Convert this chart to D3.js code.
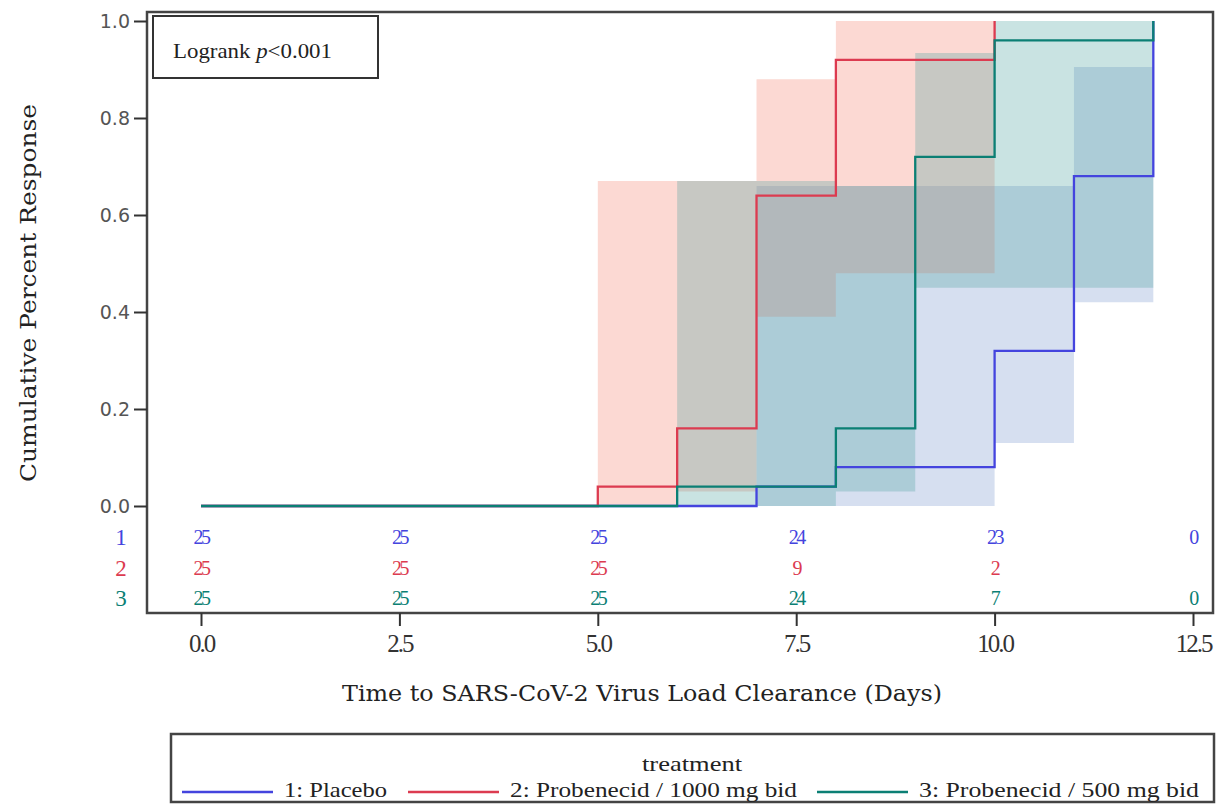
<!DOCTYPE html>
<html>
<head>
<meta charset="utf-8">
<script src="https://cdn.jsdelivr.net/npm/d3@7"></script>
<style>
  body { margin: 0; background: #fff; }
  svg { display: block; }
  .serif { font-family: "Liberation Serif", serif; }
  .wide { font-family: "DejaVu Serif", serif; }
</style>
</head>
<body>
<svg id="chart"></svg>
<script>
// Kaplan-Meier step curves (cumulative response)
const groups = ["1", "2", "3"]
const groupNames = ["1: Placebo", "2: Probenecid / 1000 mg bid", "3: Probenecid / 500 mg bid"]
const lineColors = ["#4444de", "#dc3b50", "#0b7f74"]
const bandColors = ["#7795cc", "#f6806e", "#4da19e"]

const placeboTimes = [0, 7, 8, 10, 11, 12]
const placeboValues = [0, 0.04, 0.08, 0.32, 0.68, 1.0]
const p1000Times = [0, 5, 6, 7, 8, 10]
const p1000Values = [0, 0.04, 0.16, 0.64, 0.92, 1.0]
const p500Times = [0, 6, 8, 9, 10, 12]
const p500Values = [0, 0.04, 0.16, 0.72, 0.96, 1.0]

// confidence bands: step starts (last entry = end of band), lower, upper
const placeboBandTimes = [7, 10, 11, 12]
const placeboBandLow = [0, 0.13, 0.42]
const placeboBandHigh = [0.66, 0.66, 0.905]
const p1000BandTimes = [5, 6, 7, 8, 10]
const p1000BandLow = [0, 0.03, 0.39, 0.48]
const p1000BandHigh = [0.67, 0.67, 0.88, 1.0]
const p500BandTimes = [6, 8, 9, 10, 12]
const p500BandLow = [0, 0.03, 0.45, 0.45]
const p500BandHigh = [0.67, 0.66, 0.934, 1.0]

// number at risk
const riskTimes = [0, 2.5, 5, 7.5, 10, 12.5]
const placeboRisk = ["25", "25", "25", "24", "23", "0"]
const p1000Risk = ["25", "25", "25", "9", "2", ""]
const p500Risk = ["25", "25", "25", "24", "7", "0"]

const xTicks = [0, 2.5, 5, 7.5, 10, 12.5]
const yTicks = [0, 0.2, 0.4, 0.6, 0.8, 1.0]

const width = 1222
const height = 804
const frame = { left: 147, top: 12, right: 1213, bottom: 613 }

const svg = d3.select("#chart").attr("width", width).attr("height", height)

const x = d3.scaleLinear().domain([0, 12.5]).range([201, 1193])
const y = d3.scaleLinear().domain([0, 1]).range([506, 21])

const curves = [
    { times: placeboTimes, values: placeboValues },
    { times: p1000Times, values: p1000Values },
    { times: p500Times, values: p500Values }
]
const bands = [
    { times: placeboBandTimes, low: placeboBandLow, high: placeboBandHigh },
    { times: p1000BandTimes, low: p1000BandLow, high: p1000BandHigh },
    { times: p500BandTimes, low: p500BandLow, high: p500BandHigh }
]
const risks = [placeboRisk, p1000Risk, p500Risk]

// bands (drawn transparent, placebo first, 500 mg last)
const area = d3.area()
    .curve(d3.curveStepAfter)
    .x(d => x(d.t))
    .y0(d => y(d.lo))
    .y1(d => y(d.hi))

const bandG = svg.append("g")
bands.forEach((b, i) => {
    const pts = b.times.map((t, j) => {
        const k = Math.min(j, b.low.length - 1)
        return { t: t, lo: b.low[k], hi: b.high[k] }
    })
    bandG.append("path")
        .attr("d", area(pts))
        .attr("fill", bandColors[i])
        .attr("fill-opacity", 0.3)
})

// step lines
const line = d3.line()
    .curve(d3.curveStepAfter)
    .x(d => x(d.t))
    .y(d => y(d.v))

const lineG = svg.append("g")
curves.forEach((c, i) => {
    const pts = c.times.map((t, j) => ({ t: t, v: c.values[j] }))
    lineG.append("path")
        .attr("d", line(pts))
        .attr("fill", "none")
        .attr("stroke", lineColors[i])
        .attr("stroke-width", 2.3)
})

// number at risk
const riskG = svg.append("g")
risks.forEach((r, i) => {
    const ry = 544 + i * 30.5
    riskG.append("text")
        .attr("class", "serif")
        .attr("x", 121)
        .attr("y", ry + 1)
        .attr("text-anchor", "middle")
        .attr("fill", lineColors[i])
        .style("font-size", "23px")
        .text(groups[i])
    riskG.selectAll(null)
        .data(r)
        .enter()
        .append("text")
        .attr("class", "serif")
        .attr("x", (d, j) => x(riskTimes[j]))
        .attr("y", ry)
        .attr("text-anchor", "middle")
        .attr("fill", lineColors[i])
        .style("font-size", "20px")
        .style("letter-spacing", "-2.5px")
        .text(d => d)
})

// frame
svg.append("rect")
    .attr("x", frame.left)
    .attr("y", frame.top)
    .attr("width", frame.right - frame.left)
    .attr("height", frame.bottom - frame.top)
    .attr("fill", "none")
    .attr("stroke", "#444")
    .attr("stroke-width", 2.5)

// axes
const xAxis = svg.append("g")
    .attr("transform", `translate(0, ${frame.bottom})`)
    .call(d3.axisBottom(x).tickValues(xTicks).tickFormat(d3.format(".1f")).tickSize(13).tickPadding(8))
xAxis.select(".domain").remove()
xAxis.attr("font-family", null)
xAxis.selectAll("line").attr("stroke", "#333").attr("stroke-width", 2)
xAxis.selectAll("text")
    .attr("class", "serif")
    .style("font-size", "25px")
    .style("letter-spacing", "-2px")
    .attr("fill", "#333")

const yAxis = svg.append("g")
    .attr("transform", `translate(${frame.left}, 0)`)
    .call(d3.axisLeft(y).tickValues(yTicks).tickFormat(d3.format(".1f")).tickSize(13).tickPadding(4))
yAxis.select(".domain").remove()
yAxis.selectAll("line").attr("stroke", "#333").attr("stroke-width", 2)
yAxis.selectAll("text")
    .style("font-family", "DejaVu Sans")
    .style("font-size", "19px")
    .attr("fill", "#555")

// axis titles
svg.append("text")
    .attr("class", "wide")
    .attr("transform", "translate(36, 293) rotate(-90)")
    .attr("text-anchor", "middle")
    .attr("textLength", 378)
    .attr("lengthAdjust", "spacingAndGlyphs")
    .style("font-size", "23px")
    .attr("fill", "#222")
    .text("Cumulative Percent Response")

svg.append("text")
    .attr("class", "wide")
    .attr("x", 642)
    .attr("y", 701)
    .attr("text-anchor", "middle")
    .attr("textLength", 600)
    .attr("lengthAdjust", "spacingAndGlyphs")
    .style("font-size", "23px")
    .attr("fill", "#222")
    .text("Time to SARS-CoV-2 Virus Load Clearance (Days)")

// logrank box
svg.append("rect")
    .attr("x", 153).attr("y", 16)
    .attr("width", 225).attr("height", 62)
    .attr("fill", "#fff")
    .attr("stroke", "#333")
    .attr("stroke-width", 2)
const lr = svg.append("text")
    .attr("class", "serif")
    .attr("x", 173).attr("y", 58)
    .attr("textLength", 159)
    .attr("lengthAdjust", "spacingAndGlyphs")
    .style("font-size", "22px")
    .attr("fill", "#222")
lr.append("tspan").text("Logrank ")
lr.append("tspan").style("font-style", "italic").text("p")
lr.append("tspan").text("<0.001")

// legend
const legend = svg.append("g")
legend.append("rect")
    .attr("x", 171).attr("y", 734)
    .attr("width", 1043).attr("height", 68)
    .attr("fill", "#fff")
    .attr("stroke", "#444")
    .attr("stroke-width", 2.5)
legend.append("text")
    .attr("class", "serif")
    .attr("x", 692).attr("y", 771)
    .attr("text-anchor", "middle")
    .attr("textLength", 100)
    .attr("lengthAdjust", "spacingAndGlyphs")
    .style("font-size", "22px")
    .attr("fill", "#222")
    .text("treatment")

const legendLineX = [182, 408, 817]
const legendTextLen = [103, 287, 280]
const item = legend.selectAll(".item")
    .data(groupNames)
    .enter()
    .append("g")
    .attr("class", "item")
    .attr("transform", (d, i) => `translate(${legendLineX[i]}, 797)`)
item.append("line")
    .attr("x1", 0).attr("x2", 91)
    .attr("y1", -5).attr("y2", -5)
    .attr("stroke", (d, i) => lineColors[i])
    .attr("stroke-width", 2.3)
item.append("text")
    .attr("class", "serif")
    .attr("x", 102)
    .attr("y", 0)
    .attr("textLength", (d, i) => legendTextLen[i])
    .attr("lengthAdjust", "spacingAndGlyphs")
    .style("font-size", "22px")
    .attr("fill", "#222")
    .text(d => d)
</script>
</body>
</html>
